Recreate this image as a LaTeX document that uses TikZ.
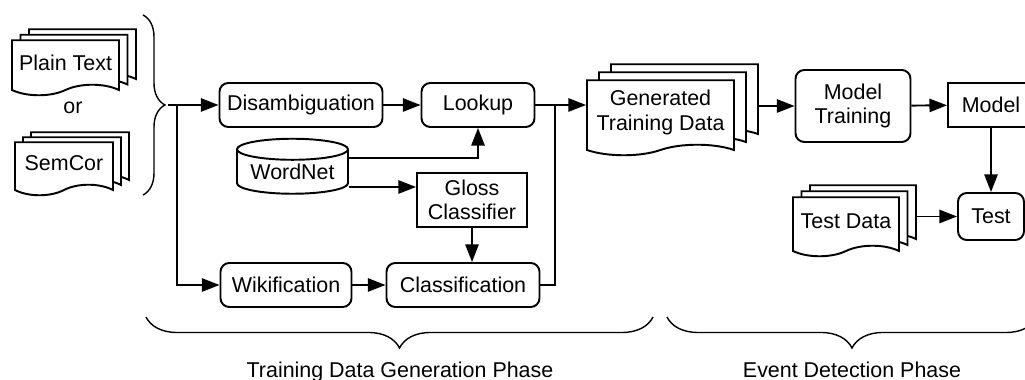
\documentclass[tikz,border=0pt]{standalone}
\usepackage{fontspec}
\setmainfont{Liberation Sans}
\usetikzlibrary{shapes.geometric, shapes.symbols, shadows, decorations.pathreplacing, arrows.meta, calc}

\tikzset{
  box/.style={draw, fill=white, rounded corners=5pt, minimum height=0.88cm, inner sep=0pt, align=center},
  sbox/.style={draw, fill=white, minimum height=0.88cm, inner sep=0pt, align=center},
  doc/.style={tape, tape bend top=none, tape bend height=6pt, draw, fill=white, inner sep=0pt, align=center},
  docs/.style 2 args={copy shadow={shadow xshift=2*#1, shadow yshift=2*#2, draw, fill=white},
                      copy shadow={shadow xshift=#1, shadow yshift=#2, draw, fill=white}, doc},
  db/.style={cylinder, shape border rotate=90, aspect=0.25, draw, fill=white, inner sep=0pt},
  brc/.style={decorate, decoration={brace, amplitude=#1}, line width=0.8pt},
  flow/.style={-{Triangle[length=10pt, width=7.5pt]}},
}

\begin{document}
\begin{tikzpicture}[line width=1.1pt, font=\fontsize{12.2}{13.8}\selectfont]
    \useasboundingbox (0,0) rectangle (20.5,7.6);

    % Input corpora
    \node[docs={0.17cm}{0.11cm}, minimum width=2.14cm, minimum height=1.1cm] (plain) at (1.31,6.35) {Plain Text};
    \node (or) at (1.46,5.44) {or};
    \node[docs={0.16cm}{0.1cm}, minimum width=1.96cm, minimum height=1.06cm] (semcor) at (1.28,4.33) {SemCor};
    \draw[brc=0.44cm] (2.86,7.3) -- (2.86,3.7);
    \coordinate (in) at (3.36,5.5);
    \coordinate (split) at (3.54,5.5);

    % Training data generation
    \node[box, minimum width=3.26cm] (disamb) at (6.02,5.5) {Disambiguation};
    \node[box, minimum width=2.26cm] (lookup) at (9.56,5.5) {Lookup};
    \node[db, minimum width=2.22cm, minimum height=1.1cm] (wordnet) at (5.85,4.16) {WordNet};
    \node[sbox, minimum width=2.2cm, minimum height=1.08cm] (gloss) at (9.44,3.6) {Gloss\\Classifier};
    \node[box, minimum width=2.62cm] (wiki) at (5.72,1.9) {Wikification};
    \node[box, minimum width=3.06cm] (classif) at (9.26,1.9) {Classification};
    \coordinate (merge) at (11.1,5.5);
    \node[docs={0.24cm}{0.16cm}, minimum width=2.94cm, minimum height=1.5cm] (gtd) at (13.21,5.35) {Generated\\Training Data};

    \draw (in) -- (split);
    \draw[flow] (split) -- (disamb);
    \draw[flow] (split) |- (wiki);
    \draw[flow] (disamb) -- (lookup);
    \draw[flow] ([yshift=0.28cm]wordnet.east) -| (lookup);
    \draw[flow] ([yshift=-0.3cm]wordnet.east) -- ([yshift=-0.3cm]wordnet.east -| gloss.west);
    \draw[flow] (gloss) -- (gloss |- classif.north);
    \draw[flow] (wiki) -- (classif);
    \draw (lookup) -- (merge);
    \draw (classif) -| (merge);
    \draw[flow] (merge) -- (merge -| gtd.west);

    % Event detection
    \node[box, minimum width=2.3cm, minimum height=1.44cm] (mtrain) at (17.06,5.48) {Model\\Training};
    \node[sbox, minimum width=1.72cm] (model) at (19.82,5.5) {Model};
    \node[docs={0.17cm}{0.12cm}, minimum width=2.12cm, minimum height=1.18cm] (testdata) at (16.92,3.17) {Test Data};
    \node[box, minimum width=1.32cm, minimum height=0.94cm] (test) at (19.82,3.27) {Test};
    \coordinate (gtdout) at ([xshift=0.48cm]gtd.east);
    \coordinate (tdout) at ([xshift=0.34cm]testdata.east);

    \draw[flow] (gtdout |- mtrain.west) -- (mtrain);
    \draw[flow] (mtrain) -- (model);
    \draw[flow] (model) -- (test);
    \draw[flow] (tdout |- test.west) -- (test);

    % Phases
    \draw[brc=0.62cm] (13.06,1.26) -- (2.92,1.26);
    \draw[brc=0.62cm] (20.74,1.26) -- (13.34,1.26);
    \node[anchor=base] (gen) at (8.0,0.04) {Training Data Generation Phase};
    \node[anchor=base] (det) at (17.04,0.04) {Event Detection Phase};
\end{tikzpicture}
\end{document}
